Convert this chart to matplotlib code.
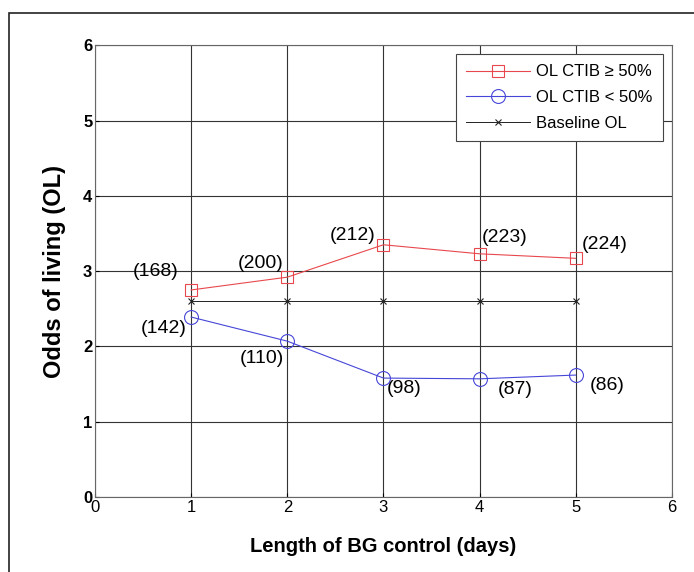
import numpy as np
import matplotlib
matplotlib.use("Agg")
import matplotlib.pyplot as plt
from matplotlib.patches import Rectangle

plt.rcParams['font.family'] = ['Liberation Sans', 'DejaVu Sans']

# data
days = [1, 2, 3, 4, 5]
ol_high = [2.75, 2.92, 3.35, 3.23, 3.17]
ol_low = [2.39, 2.07, 1.58, 1.57, 1.62]
baseline = [2.6, 2.6, 2.6, 2.6, 2.6]
n_high = ["(168)", "(200)", "(212)", "(223)", "(224)"]
n_low = ["(142)", "(110)", "(98)", "(87)", "(86)"]

# label offsets in pixels
off_high = [(-36, 18), (-27, 14), (-31, 9), (25, 16), (29, 14)]
off_low = [(-28, -11), (-25, -17), (21, -10), (36, -11), (32, -10)]

fig = plt.figure(figsize=(6.94, 5.72), dpi=100)
ax = fig.add_axes([0.137, 0.131, 0.831, 0.790])

ax.plot(days, ol_high, color='#e8484d', lw=0.8, marker='s', ms=9,
        mfc='none', mec='#e8484d', mew=0.8, label='OL CTIB \u2265 50%')
ax.plot(days, ol_low, color='#4646d8', lw=0.8, marker='o', ms=10,
        mfc='none', mec='#4646d8', mew=0.8, label='OL CTIB < 50%')
ax.plot(days, baseline, color='#222222', lw=0.7, marker='x', ms=4,
        mew=0.8, label='Baseline OL')

for x, y, t, o in zip(days, ol_high, n_high, off_high):
    ax.annotate(t, (x, y), xytext=o, textcoords='offset pixels',
                ha='center', va='center', fontsize=14)
for x, y, t, o in zip(days, ol_low, n_low, off_low):
    ax.annotate(t, (x, y), xytext=o, textcoords='offset pixels',
                ha='center', va='center', fontsize=14)

ax.set_xlim(0, 6)
ax.set_ylim(0, 6)
ax.set_xticks(range(7))
ax.set_yticks(range(7))
ax.grid(True, color='#333333', lw=0.8, ls='-')
ax.tick_params(direction='in', length=3, labelsize=12, pad=2)
for lab in ax.get_yticklabels():
    lab.set_fontweight('bold')
for s in ax.spines.values():
    s.set_color('#666666')
    s.set_linewidth(0.8)

ax.set_xlabel('Length of BG control (days)', fontsize=14.5, fontweight='bold', labelpad=16)
ax.set_ylabel('Odds of living (OL)', fontsize=17, fontweight='bold', labelpad=12)

leg = ax.legend(loc='upper right', fontsize=12, fancybox=False, edgecolor='#444444',
                framealpha=1, borderaxespad=0.55, handlelength=3.8, handletextpad=0.4,
                labelspacing=0.65, borderpad=0.6)
leg.get_frame().set_linewidth(0.8)

# outer frame
fig.patches.append(Rectangle((9 / 694, -0.01), 1.0, 1 - 13 / 572 + 0.01,
                             transform=fig.transFigure, fill=False,
                             edgecolor='#222222', lw=1.2))

fig.savefig('out.png', dpi=100)
